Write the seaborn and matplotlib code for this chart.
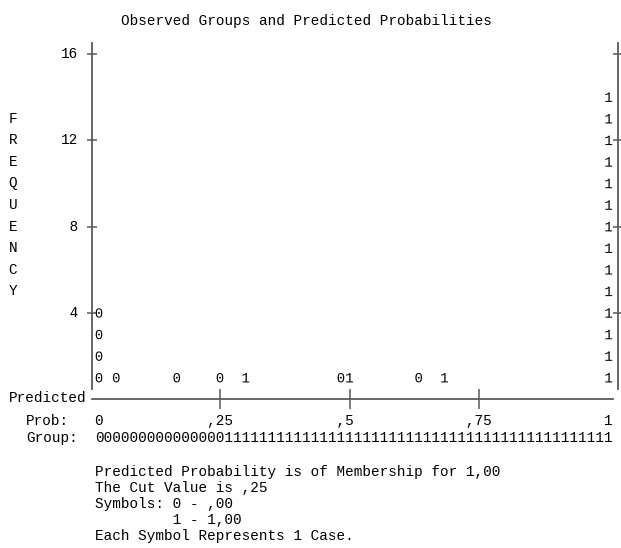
import numpy as np
import pandas as pd
import matplotlib.pyplot as plt
import seaborn as sns

sns.set_theme(style="white")
plt.rcParams["font.family"] = ["Liberation Mono", "DejaVu Sans Mono"]
plt.rcParams["mathtext.fontset"] = "custom"
plt.rcParams["mathtext.rm"] = "Liberation Mono"
plt.rcParams["mathtext.it"] = "Liberation Mono"
plt.rcParams["mathtext.default"] = "rm"

# predicted probability of every case, split by observed group
prob_obs0 = [0.01, 0.01, 0.01, 0.01, 0.04, 0.16, 0.24, 0.475, 0.625]
prob_obs1 = [0.29, 0.49, 0.675,
             0.99, 0.99, 0.99, 0.99, 0.99, 0.99, 0.99,
             0.99, 0.99, 0.99, 0.99, 0.99, 0.99, 0.99]
n_cols = 60
freq_ticks = [4, 8, 12, 16]
prob_ticks = [0.25, 0.5, 0.75]
prob_line = "0" + " " * 12 + ",25" + " " * 12 + ",5" + " " * 13 + ",75" + " " * 13 + "1"
group_line = "0" * 15 + "1" * 45
title = "Observed Groups and Predicted Probabilities"
footer = ["Predicted Probability is of Membership for 1,00",
          "The Cut Value is ,25",
          "Symbols: 0 - ,00",
          "         1 - 1,00",
          "Each Symbol Represents 1 Case."]

df = pd.DataFrame({
    "prob": prob_obs0 + prob_obs1,
    "group": ["0"] * len(prob_obs0) + ["1"] * len(prob_obs1),
})
df["col"] = np.minimum((df["prob"] * n_cols).astype(int), n_cols - 1)
df["x"] = (df["col"] + 1) / n_cols
df["freq"] = df.groupby("col").cumcount() + 1

# page geometry in pixels (text-output look)
W, H = 621, 548
PITCH = 8.64
X0, XS = 90.36, 518.4      # px = X0 + XS * prob
Y0, YS = 399.3, 21.58      # px = Y0 - YS * freq
FS = PITCH / 0.6 * 72 / 100
line_color = "#5a5a5a"

fig = plt.figure(figsize=(W / 100, H / 100), dpi=100)
xlim = (-0.02, 1.02)
ylim = (-0.8, 17.2)
left, right = X0 + XS * xlim[0], X0 + XS * xlim[1]
bottom, top = Y0 - YS * ylim[0], Y0 - YS * ylim[1]
ax = fig.add_axes([left / W, 1 - bottom / H, (right - left) / W, (bottom - top) / H])

sns.scatterplot(data=df, x="x", y="freq", style="group",
                markers={"0": "$0$", "1": "$1$"}, color="black",
                s=46, linewidth=0, legend=False, ax=ax)

ax.set_xlim(*xlim)
ax.set_ylim(*ylim)
ax.set_xlabel("")
ax.set_ylabel("")
ax.spines["top"].set_visible(False)
for side in ["left", "right", "bottom"]:
    ax.spines[side].set_visible(True)
    ax.spines[side].set_color(line_color)
    ax.spines[side].set_linewidth(1.3)
ax.spines["left"].set_position(("data", 0.003))
ax.spines["left"].set_bounds(0.5, 16.5)
ax.spines["right"].set_position(("data", 1.017))
ax.spines["right"].set_bounds(0.5, 16.5)
ax.spines["bottom"].set_position(("data", 0))
ax.spines["bottom"].set_bounds(0.003, 1.008)
ax.set_yticks(freq_ticks)
ax.set_xticks(prob_ticks)
ax.tick_params(axis="y", left=True, right=True, direction="inout", length=7,
               width=1.1, color=line_color, labelleft=False, labelright=False)
ax.tick_params(axis="x", bottom=True, direction="inout", length=14.4,
               width=1.1, color=line_color, labelbottom=False)
ax.set_facecolor("none")


def put(col, y, s):
    fig.text((X0 + 4.72 + col * PITCH) / W, 1 - y / H, s, ha="left",
             va="center", fontsize=FS, color="black")


put(3, 21, title)
for k in freq_ticks:
    put(-4, Y0 - YS * k, f"{k:>2}")
for i, ch in enumerate("FREQUENCY"):
    put(-10, Y0 - YS * (13 - i), ch)
put(-10, 398, "Predicted")
put(-8, 421, "Prob:")
put(0, 421, prob_line)
put(-8, 438, "Group:")
put(0, 438, group_line)
for i, line in enumerate(footer):
    put(0, 472 + 16 * i, line)

fig.savefig("out.png", dpi=100)
plt.close(fig)
